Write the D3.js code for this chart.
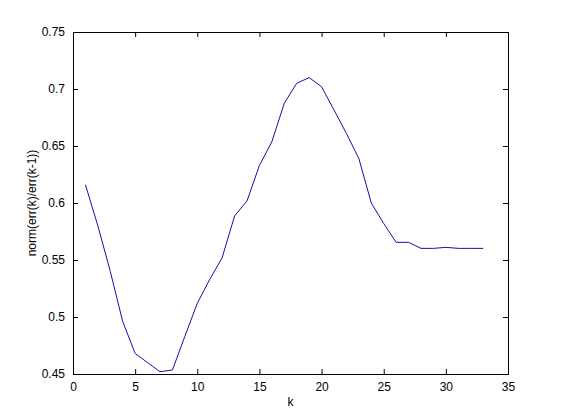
<!DOCTYPE html>
<html>
<head>
<meta charset="utf-8">
<script src="https://cdn.jsdelivr.net/npm/d3@7"></script>
<style>
  body { margin: 0; background: #fff; }
  svg text { font-family: "Liberation Sans", Arial, sans-serif; fill: #000; }
</style>
</head>
<body>
<div id="chart"></div>
<script>
(function () {

  // data
  var kValues = [1, 2, 3, 4, 5, 6, 7, 8, 9, 10, 11, 12, 13, 14, 15, 16, 17,
                 18, 19, 20, 21, 22, 23, 24, 25, 26, 27, 28, 29, 30, 31, 32, 33];
  var ratio = [0.616, 0.580, 0.540, 0.496, 0.468, 0.460, 0.452, 0.4535, 0.483, 0.512,
               0.533, 0.552, 0.5886, 0.6018, 0.633, 0.6537, 0.6875, 0.705, 0.710, 0.702,
               0.6816, 0.661, 0.639, 0.600, 0.582, 0.5655, 0.5655, 0.5602, 0.5602, 0.5611,
               0.5602, 0.5602, 0.5602];
  var xTicks = [0, 5, 10, 15, 20, 25, 30, 35];
  var yTicks = [0.45, 0.5, 0.55, 0.6, 0.65, 0.7, 0.75];
  var yTickLabels = ["0.45", "0.5", "0.55", "0.6", "0.65", "0.7", "0.75"];

  var w = 561;
  var h = 420;
  var margin = { top: 32, left: 73, right: 53, bottom: 46 };
  var width = w - margin.left - margin.right;
  var height = h - margin.top - margin.bottom;

  var xScale = d3.scaleLinear().domain([0, 35]).range([0, width]);
  var yScale = d3.scaleLinear().domain([0.45, 0.75]).range([height, 0]);

  var svg = d3.select("#chart")
    .append("svg")
    .attr("width", w)
    .attr("height", h);

  var g = svg.append("g")
    .attr("transform", "translate(" + margin.left + "," + margin.top + ")");

  var tick = 5;

  // bottom + top axes (ticks point inward)
  var xAxis = d3.axisBottom(xScale).tickValues(xTicks).tickFormat(d3.format("d"))
    .tickSizeInner(-tick).tickSizeOuter(0).tickPadding(8);
  var xAxisTop = d3.axisTop(xScale).tickValues(xTicks).tickFormat("")
    .tickSizeInner(-tick).tickSizeOuter(0);
  var yAxis = d3.axisLeft(yScale).tickValues(yTicks)
    .tickFormat(function (d, i) { return yTickLabels[i]; })
    .tickSizeInner(-tick).tickSizeOuter(0).tickPadding(8);
  var yAxisRight = d3.axisRight(yScale).tickValues(yTicks).tickFormat("")
    .tickSizeInner(-tick).tickSizeOuter(0);

  g.append("g").attr("transform", "translate(0," + height + ")").call(xAxis);
  g.append("g").call(xAxisTop);
  g.append("g").call(yAxis);
  g.append("g").attr("transform", "translate(" + width + ",0)").call(yAxisRight);

  g.selectAll(".domain").attr("stroke", "#000").attr("stroke-width", 1);
  g.selectAll(".tick line").attr("stroke", "#000");
  g.selectAll(".tick text")
    .style("font-size", "12px")
    .style("fill", "#000");

  // box
  g.append("rect")
    .attr("x", 0).attr("y", 0)
    .attr("width", width).attr("height", height)
    .attr("fill", "none")
    .attr("stroke", "#000")
    .attr("shape-rendering", "crispEdges");

  var line = d3.line()
    .x(function (d, i) { return xScale(kValues[i]); })
    .y(function (d) { return yScale(d); });

  g.append("path")
    .datum(ratio)
    .attr("d", line)
    .attr("fill", "none")
    .attr("stroke", "#1010b0")
    .attr("stroke-width", 1);

  svg.append("text")
    .attr("x", margin.left + width / 2)
    .attr("y", 406)
    .attr("text-anchor", "middle")
    .style("font-size", "12px")
    .style("fill", "#000")
    .text("k");

  svg.append("text")
    .attr("transform", "translate(36," + (margin.top + height / 2) + ") rotate(-90)")
    .attr("text-anchor", "middle")
    .style("font-size", "12px")
    .style("fill", "#000")
    .text("norm(err(k)/err(k-1))");

})();
</script>
</body>
</html>
